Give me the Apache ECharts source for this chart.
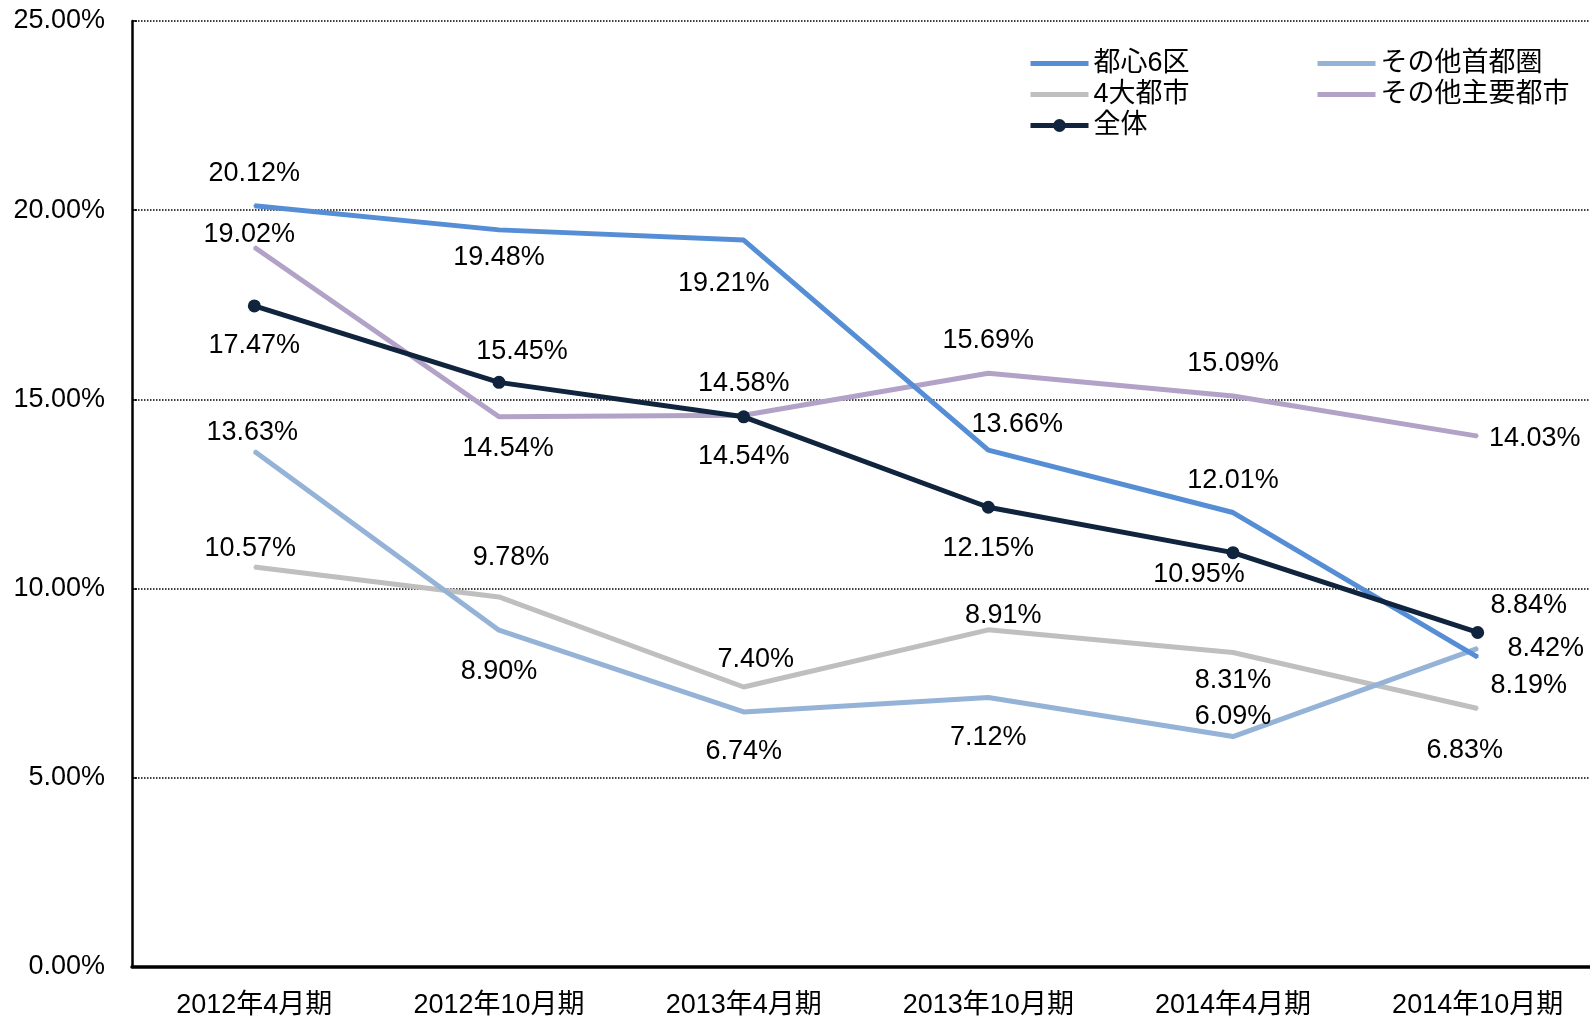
<!DOCTYPE html>
<html>
<head>
<meta charset="utf-8">
<script src="https://cdn.jsdelivr.net/npm/echarts@6/dist/echarts.min.js"></script>
<style>
  html, body { margin: 0; padding: 0; background: #fff; }
  #chart { width: 1590px; height: 1018px; }
</style>
</head>
<body>
<div id="chart"></div>
<script>
// chart data
const periods = ['2012年4月期', '2012年10月期', '2013年4月期', '2013年10月期', '2014年4月期', '2014年10月期']
const toshin6 = [20.12, 19.48, 19.21, 13.66, 12.01, 8.19]
const otherShutoken = [13.63, 8.90, 6.74, 7.12, 6.09, 8.42]
const daitoshi4 = [10.57, 9.78, 7.40, 8.91, 8.31, 6.83]
const otherMajor = [19.02, 14.54, 14.58, 15.69, 15.09, 14.03]
const total = [17.47, 15.45, 14.54, 12.15, 10.95, 8.84]
const yTicks = [0, 5, 10, 15, 20, 25]

// label placement (style only)
const labelOffsets = {
  '都心6区': [[0, -32], [0, 28], [-20, 43], [29, -26], [0, -32], [51, 28]],
  'その他首都圏': [[-2, -19], [0, 41], [0, 40], [0, 40], [0, -20], [68, 0]],
  '4大都市': [[-4, -18], [12, -39], [12, -27], [15, -14], [0, 28], [-13, 42]],
  'その他主要都市': [[-5, -13], [9, 32], [0, -32], [0, -33], [0, -32], [57, 2]],
  '全体': [[0, 40], [23, -31], [0, 40], [0, 41], [-34, 22], [51, -27]]
}

const FONT = '"Liberation Sans", "Noto Sans CJK JP", sans-serif'

function makeSeries(name, values, color, withDot) {
  const offs = labelOffsets[name]
  return {
    name: name,
    type: 'line',
    data: values.map((v, i) => ({ value: v, label: { offset: offs[i] } })),
    symbol: 'circle',
    symbolSize: withDot ? 13 : 2,
    showSymbol: true,
    lineStyle: { color: color, width: 5 },
    itemStyle: { color: color },
    z: withDot ? 5 : 3,
    label: {
      show: true,
      position: 'inside',
      color: '#000',
      fontSize: 27,
      fontFamily: FONT,
      formatter: p => p.value.toFixed(2) + '%'
    },
    emphasis: { disabled: true }
  }
}

const chart = echarts.init(document.getElementById('chart'))
const legendBase = {
  orient: 'vertical',
  top: 45,
  itemWidth: 58,
  itemHeight: 16,
  itemGap: 4,
  textStyle: { color: '#000', fontSize: 27, fontFamily: FONT },
  selectedMode: false
}
const hiddenDot = { itemStyle: { opacity: 0 }, lineStyle: { width: 5 } }

chart.setOption({
  animation: false,
  grid: { left: 132, top: 21, right: -10, bottom: 51, outerBoundsMode: 'none' },
  legend: [
    Object.assign({}, legendBase, {
      left: 1023,
      data: [
        Object.assign({ name: '都心6区' }, hiddenDot),
        Object.assign({ name: '4大都市' }, hiddenDot),
        { name: '全体', lineStyle: { width: 5 } }
      ]
    }),
    Object.assign({}, legendBase, {
      left: 1310,
      data: [
        Object.assign({ name: 'その他首都圏' }, hiddenDot),
        Object.assign({ name: 'その他主要都市' }, hiddenDot)
      ]
    })
  ],
  xAxis: {
    type: 'category',
    data: periods,
    boundaryGap: true,
    axisLine: { lineStyle: { color: '#000', width: 3.5 } },
    axisTick: { inside: true, length: 8, lineStyle: { color: '#000', width: 1.5 } },
    axisLabel: { color: '#000', fontSize: 27, fontFamily: FONT, margin: 25 }
  },
  yAxis: {
    type: 'value',
    min: yTicks[0],
    max: yTicks[yTicks.length - 1],
    interval: 5,
    axisLine: { show: true, lineStyle: { color: '#000', width: 2.5 } },
    axisTick: { show: true, inside: true, length: 5, lineStyle: { color: '#000', width: 1.5 } },
    splitLine: { lineStyle: { color: '#000', type: 'dotted', width: 1.5 } },
    axisLabel: {
      color: '#000',
      fontSize: 27,
      fontFamily: FONT,
      margin: 27,
      formatter: v => v.toFixed(2) + '%'
    }
  },
  series: [
    makeSeries('4大都市', daitoshi4, '#BFBFBF', false),
    makeSeries('その他首都圏', otherShutoken, '#95B3D7', false),
    makeSeries('その他主要都市', otherMajor, '#B3A2C7', false),
    makeSeries('都心6区', toshin6, '#558ED5', false),
    makeSeries('全体', total, '#10243E', true)
  ]
})
</script>
</body>
</html>
